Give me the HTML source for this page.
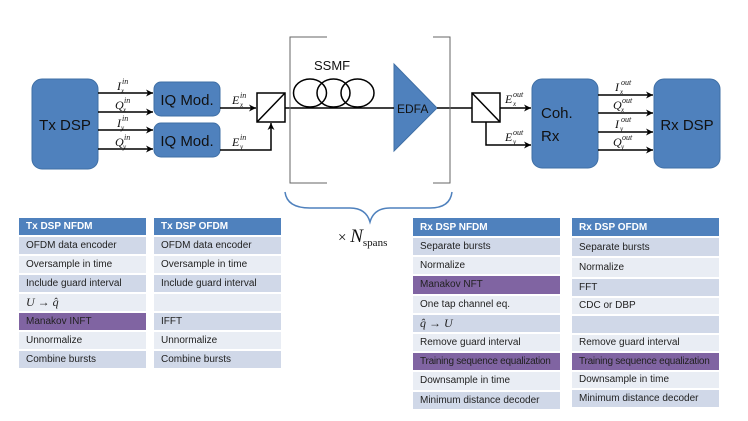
<!DOCTYPE html>
<html><head><style>
body{margin:0;width:748px;height:421px;background:#fff;overflow:hidden;font-family:"Liberation Sans",sans-serif;}
.t{position:absolute;font-size:10px;color:#222;}
.t div{box-sizing:border-box;padding-left:7px;display:flex;align-items:center;border-bottom:2px solid #fff;white-space:nowrap;overflow:hidden;}
.h{background:#4f81bd;color:#fff;font-weight:bold;}
.a{background:#d0d8e8;}
.b{background:#e9edf4;}
.p{background:#8064a2;}
.n{letter-spacing:-0.25px;}
</style></head><body>
<svg width="748" height="421" style="position:absolute;left:0;top:0" font-family="Liberation Serif" >
<defs><marker id="ar" markerWidth="8" markerHeight="8" refX="7" refY="4" orient="auto" markerUnits="userSpaceOnUse"><path d="M0,0.5 L7,4 L0,7.5 L2,4z" fill="#000"/></marker></defs>
<g fill="#4f81bd" stroke="#3f6fa5" stroke-width="1">
<rect x="32" y="79" width="66" height="90" rx="10"/>
<rect x="154" y="82" width="66" height="34" rx="7"/>
<rect x="154" y="123" width="66" height="34" rx="7"/>
<rect x="532" y="79" width="66" height="89" rx="10"/>
<rect x="654" y="79" width="66" height="89" rx="10"/>
<path d="M394,64 L437,108 L394,151z"/>
</g>
<g font-family="Liberation Sans" font-size="15" fill="#111">
<text x="65" y="130" text-anchor="middle">Tx DSP</text>
<text x="187" y="105" text-anchor="middle">IQ Mod.</text>
<text x="187" y="146" text-anchor="middle">IQ Mod.</text>
<text x="541" y="118">Coh.</text>
<text x="541" y="141">Rx</text>
<text x="687" y="130" text-anchor="middle">Rx DSP</text>
<text x="397" y="113" font-size="12">EDFA</text>
<text x="314" y="70" font-size="13">SSMF</text>
</g>
<g stroke="#000" stroke-width="1.5" fill="none">
<line x1="98" y1="93" x2="153" y2="93" marker-end="url(#ar)"/>
<line x1="98" y1="112" x2="153" y2="112" marker-end="url(#ar)"/>
<line x1="98" y1="130" x2="153" y2="130" marker-end="url(#ar)"/>
<line x1="98" y1="149" x2="153" y2="149" marker-end="url(#ar)"/>
<line x1="220" y1="108" x2="256" y2="108" marker-end="url(#ar)"/>
<polyline points="220,150 271,150 271,123" marker-end="url(#ar)"/>
<rect x="257" y="93" width="28" height="29" fill="#fff"/>
<line x1="257" y1="122" x2="285" y2="93"/>
<line x1="285" y1="108" x2="394" y2="108"/>
<ellipse cx="310" cy="93" rx="16.5" ry="14"/>
<ellipse cx="333.5" cy="93" rx="16.5" ry="14"/>
<ellipse cx="357.5" cy="93" rx="16.5" ry="14"/>
<line x1="437" y1="108" x2="472" y2="108"/>
<rect x="472" y="93" width="28" height="29" fill="#fff"/>
<line x1="472" y1="93" x2="500" y2="122"/>
<line x1="500" y1="108" x2="531" y2="108" marker-end="url(#ar)"/>
<polyline points="486,122 486,145 531,145" marker-end="url(#ar)"/>
<line x1="598" y1="95" x2="653" y2="95" marker-end="url(#ar)"/>
<line x1="598" y1="113" x2="653" y2="113" marker-end="url(#ar)"/>
<line x1="598" y1="132" x2="653" y2="132" marker-end="url(#ar)"/>
<line x1="598" y1="150" x2="653" y2="150" marker-end="url(#ar)"/>
</g>
<g stroke="#666" stroke-width="1" fill="none">
<polyline points="327,37 290,37 290,183 327,183"/>
<polyline points="433,37 450,37 450,183 433,183"/>
</g>
<path d="M285,192 Q287,208 310,208 L350,208 Q366,208 370,222 Q374,208 390,208 L430,208 Q450,208 452,192" stroke="#4f81bd" stroke-width="1.5" fill="none"/>
<g font-style="italic" font-size="12" fill="#111">
<text x="117" y="90">I</text><text x="122" y="84" font-size="8">in</text><text x="121" y="93" font-size="7">x</text>
<text x="115" y="109">Q</text><text x="124" y="103" font-size="8">in</text><text x="123" y="112" font-size="7">x</text>
<text x="117" y="127">I</text><text x="122" y="121" font-size="8">in</text><text x="121" y="130" font-size="7">y</text>
<text x="115" y="146">Q</text><text x="124" y="140" font-size="8">in</text><text x="123" y="149" font-size="7">y</text>
<text x="232" y="104">E</text><text x="240" y="98" font-size="8">in</text><text x="240" y="107" font-size="7">x</text>
<text x="232" y="146">E</text><text x="240" y="140" font-size="8">in</text><text x="240" y="149" font-size="7">y</text>
<text x="505" y="103">E</text><text x="513" y="97" font-size="8">out</text><text x="513" y="106" font-size="7">x</text>
<text x="505" y="141">E</text><text x="513" y="135" font-size="8">out</text><text x="513" y="144" font-size="7">y</text>
<text x="615" y="91">I</text><text x="621" y="85" font-size="8">out</text><text x="620" y="94" font-size="7">x</text>
<text x="613" y="109">Q</text><text x="622" y="103" font-size="8">out</text><text x="621" y="112" font-size="7">x</text>
<text x="615" y="128">I</text><text x="621" y="122" font-size="8">out</text><text x="620" y="131" font-size="7">y</text>
<text x="613" y="146">Q</text><text x="622" y="140" font-size="8">out</text><text x="621" y="149" font-size="7">y</text>
</g>
<text x="338" y="242" font-size="15" fill="#111">× <tspan font-style="italic" font-size="19">N</tspan><tspan font-size="11" dy="4">spans</tspan></text>
</svg>

<div class="t" style="left:19px;top:218px;width:127px">
<div class="h" style="height:19px">Tx DSP NFDM</div>
<div class="a" style="height:19px">OFDM data encoder</div>
<div class="b" style="height:19px">Oversample in time</div>
<div class="a" style="height:19px">Include guard interval</div>
<div class="b" style="height:19px;font-family:'Liberation Serif';font-style:italic;font-size:12px">U → q̂</div>
<div class="p" style="height:19px">Manakov INFT</div>
<div class="b" style="height:19px">Unnormalize</div>
<div class="a" style="height:19px">Combine bursts</div>
</div>
<div class="t" style="left:154px;top:218px;width:127px">
<div class="h" style="height:19px">Tx DSP OFDM</div>
<div class="a" style="height:19px">OFDM data encoder</div>
<div class="b" style="height:19px">Oversample in time</div>
<div class="a" style="height:19px">Include guard interval</div>
<div class="b" style="height:19px"></div>
<div class="a" style="height:19px">IFFT</div>
<div class="b" style="height:19px">Unnormalize</div>
<div class="a" style="height:19px">Combine bursts</div>
</div>
<div class="t" style="left:413px;top:218px;width:147px">
<div class="h" style="height:20px">Rx DSP NFDM</div>
<div class="a" style="height:19.2px">Separate bursts</div>
<div class="b" style="height:19.2px">Normalize</div>
<div class="p" style="height:19.2px">Manakov NFT</div>
<div class="b" style="height:19.2px">One tap channel eq.</div>
<div class="a" style="height:19.2px;font-family:'Liberation Serif';font-style:italic;font-size:12px">q̂ → U</div>
<div class="b" style="height:19.2px">Remove guard interval</div>
<div class="p n" style="height:19.2px">Training sequence equalization</div>
<div class="b" style="height:19.2px">Downsample in time</div>
<div class="a" style="height:19.2px">Minimum distance decoder</div>
</div>
<div class="t" style="left:572px;top:218px;width:147px">
<div class="h" style="height:20px">Rx DSP OFDM</div>
<div class="a" style="height:20px">Separate bursts</div>
<div class="b" style="height:21px">Normalize</div>
<div class="a" style="height:18.5px">FFT</div>
<div class="b" style="height:18.5px">CDC or DBP</div>
<div class="a" style="height:18.5px"></div>
<div class="b" style="height:18.5px">Remove guard interval</div>
<div class="p n" style="height:18.5px">Training sequence equalization</div>
<div class="b" style="height:18.5px">Downsample in time</div>
<div class="a" style="height:18.5px">Minimum distance decoder</div>
</div>
</body></html>
